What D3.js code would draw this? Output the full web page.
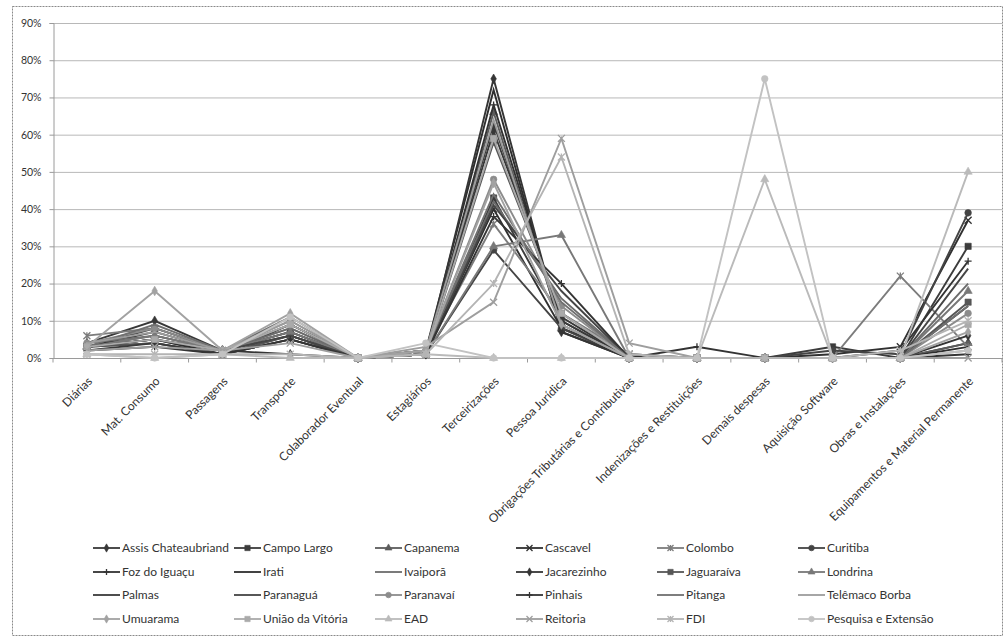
<!DOCTYPE html>
<html>
<head>
<meta charset="utf-8">
<script src="https://cdn.jsdelivr.net/npm/d3@7"></script>
<style>
  html, body { margin: 0; padding: 0; background: #fff; }
  svg { display: block; font-family: Lato, "Open Sans", sans-serif; }
</style>
</head>
<body>
<svg id="chart" width="1006" height="640"></svg>
<script>
// Expense categories (x axis)
const categories = [
  "Diárias", "Mat. Consumo", "Passagens", "Transporte", "Colaborador Eventual",
  "Estagiários", "Terceirizações", "Pessoa Jurídica",
  "Obrigações  Tributárias e Contributivas", "Indenizações e Restituições",
  "Demais despesas", "Aquisição Software", "Obras e Instalações",
  "Equipamentos e Material Permanente"
];

// Y axis ticks (share of budget)
const yTicks = [0, 0.1, 0.2, 0.3, 0.4, 0.5, 0.6, 0.7, 0.8, 0.9];

// Share (%) of each campus budget per category, in category order
const assisChateaubriand = [4, 10, 2, 7, 0, 1, 61, 11, 0, 0, 0, 0, 0, 4];
const campoLargo         = [3, 5, 1, 6, 0, 1, 43, 10, 0, 0, 0, 3, 0, 30];
const capanema           = [3, 6, 2, 9, 0, 2, 66, 8, 0, 0, 0, 0, 0, 4];
const cascavel           = [3, 4, 1, 5, 0, 1, 40, 8, 1, 0, 0, 1, 3, 37];
const colombo            = [6, 8, 2, 8, 0, 2, 36, 12, 1, 0, 0, 0, 22, 3];
const curitiba           = [3, 8, 2, 7, 0, 1, 29, 8, 0, 0, 0, 2, 1, 39];
const fozDoIguacu        = [3, 7, 2, 6, 0, 1, 68, 9, 0, 3, 0, 0, 0, 1];
const irati              = [3, 5, 1, 9, 0, 2, 72, 7, 0, 0, 0, 0, 0, 3];
const ivaipora           = [4, 6, 2, 8, 0, 2, 42, 16, 0, 0, 0, 0, 0, 20];
const jacarezinho        = [3, 5, 2, 1, 0, 1, 75, 7, 0, 0, 0, 0, 0, 6];
const jaguaraiva         = [3, 4, 1, 6, 0, 1, 58, 12, 0, 0, 0, 0, 0, 15];
const londrina           = [3, 6, 2, 7, 0, 1, 30, 33, 0, 0, 0, 0, 0, 18];
const palmas             = [2, 4, 1, 5, 0, 1, 63, 10, 0, 0, 0, 0, 0, 14];
const paranagua          = [3, 5, 2, 6, 0, 1, 41, 18, 0, 0, 0, 0, 0, 24];
const paranavai          = [4, 8, 2, 10, 0, 2, 48, 14, 0, 0, 0, 0, 0, 12];
const pinhais            = [2, 3, 1, 5, 0, 1, 38, 20, 0, 0, 0, 0, 2, 26];
const pitanga            = [3, 9, 2, 11, 0, 2, 44, 15, 0, 0, 0, 0, 0, 14];
const telemacoBorba      = [4, 7, 2, 10, 0, 2, 64, 9, 0, 0, 0, 0, 0, 2];
const umuarama           = [3, 18, 2, 12, 0, 2, 47, 9, 0, 0, 0, 0, 0, 7];
const uniaoDaVitoria     = [3, 5, 2, 9, 0, 1, 59, 12, 0, 0, 0, 0, 0, 9];
const ead                = [1, 0, 1, 0, 0, 1, 0, 0, 0, 0, 48, 0, 0, 50];
const reitoria           = [2, 3, 2, 4, 0, 3, 15, 59, 4, 0, 0, 0, 0, 0];
const fdi                = [1, 1, 1, 1, 0, 1, 20, 54, 1, 0, 0, 0, 2, 10];
const pesquisaExtensao   = [1, 0, 1, 11, 0, 4, 0, 0, 0, 0, 75, 0, 0, 2];

const seriesNames = [
  "Assis Chateaubriand", "Campo Largo", "Capanema", "Cascavel", "Colombo", "Curitiba",
  "Foz do Iguaçu", "Irati", "Ivaiporã", "Jacarezinho", "Jaguaraíva", "Londrina",
  "Palmas", "Paranaguá", "Paranavaí", "Pinhais", "Pitanga", "Telêmaco Borba",
  "Umuarama", "União da Vitória", "EAD", "Reitoria", "FDI", "Pesquisa e Extensão"
];
const seriesValues = [
  assisChateaubriand, campoLargo, capanema, cascavel, colombo, curitiba,
  fozDoIguacu, irati, ivaipora, jacarezinho, jaguaraiva, londrina,
  palmas, paranagua, paranavai, pinhais, pitanga, telemacoBorba,
  umuarama, uniaoDaVitoria, ead, reitoria, fdi, pesquisaExtensao
];

// Line colour and marker per series (grayscale print palette)
const seriesStyle = [
  { color: "#383838", marker: "diamond" },
  { color: "#3c3c3c", marker: "square" },
  { color: "#5c5c5c", marker: "triangle" },
  { color: "#303030", marker: "x" },
  { color: "#7c7c7c", marker: "star" },
  { color: "#444444", marker: "circle" },
  { color: "#333333", marker: "plus" },
  { color: "#2e2e2e", marker: "none" },
  { color: "#6c6c6c", marker: "none" },
  { color: "#353535", marker: "diamond" },
  { color: "#565656", marker: "square" },
  { color: "#787878", marker: "triangle" },
  { color: "#3a3a3a", marker: "none" },
  { color: "#454545", marker: "none" },
  { color: "#8c8c8c", marker: "circle" },
  { color: "#343434", marker: "plus" },
  { color: "#707070", marker: "none" },
  { color: "#9c9c9c", marker: "none" },
  { color: "#a2a2a2", marker: "diamond" },
  { color: "#aaaaaa", marker: "square" },
  { color: "#bababa", marker: "triangle" },
  { color: "#9e9e9e", marker: "x" },
  { color: "#b4b4b4", marker: "star" },
  { color: "#c2c2c2", marker: "circle" }
];

const svg = d3.select("#chart");

// Outer chart frame
svg.append("rect")
  .attr("x", 12.5).attr("y", 6.5)
  .attr("width", 990).attr("height", 629)
  .attr("fill", "#fff")
  .attr("stroke", "#8a8a8a")
  .attr("stroke-width", 1)
  .attr("stroke-dasharray", "2,1");

const plot = { left: 53, right: 1002, top: 23, bottom: 358 };

const x = d3.scaleBand().domain(categories).range([plot.left, plot.right]);
const cx = c => x(c) + x.bandwidth() / 2;
const y = d3.scaleLinear().domain([0, 0.9]).range([plot.bottom, plot.top]);

// Horizontal gridlines
svg.append("g")
  .selectAll("line")
  .data(yTicks.filter(t => t > 0))
  .join("line")
  .attr("x1", plot.left).attr("x2", plot.right)
  .attr("y1", d => y(d) + 0.5).attr("y2", d => y(d) + 0.5)
  .attr("stroke", "#b8b8b8")
  .attr("stroke-width", 1);

// Y axis
const yAxis = svg.append("g")
  .attr("transform", `translate(${plot.left + 0.5},0)`)
  .call(d3.axisLeft(y).tickValues(yTicks).tickFormat(d3.format(".0%")).tickSize(4).tickPadding(8));
yAxis.select(".domain").attr("stroke", "#9a9a9a");
yAxis.selectAll(".tick line").attr("stroke", "#9a9a9a");
yAxis.selectAll("text")
  .attr("fill", "#333")
  .style("font-size", "10.5px")
  .style("font-family", "Lato, sans-serif");

// X axis baseline with ticks at category boundaries
const xAxis = svg.append("g")
  .attr("transform", `translate(0,${plot.bottom + 0.5})`);
xAxis.append("line")
  .attr("x1", plot.left).attr("x2", plot.right)
  .attr("stroke", "#9a9a9a");
xAxis.selectAll("line.tick")
  .data(d3.range(categories.length + 1))
  .join("line")
  .attr("class", "tick")
  .attr("x1", i => plot.left + i * x.bandwidth())
  .attr("x2", i => plot.left + i * x.bandwidth())
  .attr("y1", 0).attr("y2", 4)
  .attr("stroke", "#9a9a9a");

// Rotated category labels
svg.append("g")
  .selectAll("text")
  .data(categories)
  .join("text")
  .attr("transform", d => `translate(${cx(d) + 6},${plot.bottom + 24}) rotate(-45)`)
  .attr("text-anchor", "end")
  .attr("fill", "#333")
  .style("font-size", "12px")
  .text(d => d);

// Marker path builders
function markerPath(type, s) {
  const h = s / 2;
  switch (type) {
    case "diamond": return d3.symbol(d3.symbolDiamond, s * s * 0.55)();
    case "square": return d3.symbol(d3.symbolSquare, s * s * 0.8)();
    case "triangle": return d3.symbol(d3.symbolTriangle, s * s * 0.6)();
    case "circle": return d3.symbol(d3.symbolCircle, s * s * 0.7)();
    case "x": return `M${-h},${-h}L${h},${h}M${-h},${h}L${h},${-h}`;
    case "plus": return `M${-h},0L${h},0M0,${-h}L0,${h}`;
    case "star": return `M${-h},${-h}L${h},${h}M${-h},${h}L${h},${-h}M0,${-h}L0,${h}`;
    default: return null;
  }
}
const strokedMarker = t => t === "x" || t === "plus" || t === "star";

function drawMarker(g, type, color, px, py, size) {
  const p = markerPath(type, size);
  if (!p) return;
  const m = g.append("path")
    .attr("d", p)
    .attr("transform", `translate(${px},${py})`);
  if (strokedMarker(type)) {
    m.attr("fill", "none").attr("stroke", color).attr("stroke-width", 1.3);
  } else {
    m.attr("fill", color).attr("stroke", color).attr("stroke-width", 0.6);
  }
}

const line = d3.line()
  .x((d, i) => cx(categories[i]))
  .y(d => y(d / 100));

// Series lines and markers
const seriesG = svg.append("g");
seriesValues.forEach((vals, si) => {
  const st = seriesStyle[si];
  const g = seriesG.append("g");
  g.append("path")
    .datum(vals)
    .attr("d", line)
    .attr("fill", "none")
    .attr("stroke", st.color)
    .attr("stroke-width", 1.9)
    .attr("stroke-linejoin", "miter");
  vals.forEach((v, i) => {
    drawMarker(g, st.marker, st.color, cx(categories[i]), y(v / 100), 7);
  });
});

// Legend: 6 columns x 4 rows
const legendCols = [122, 263, 404, 545, 686, 827];
const legendRows = [548, 572, 595, 619];
const legend = svg.append("g");
seriesNames.forEach((name, i) => {
  const col = i % 6, row = Math.floor(i / 6);
  const st = seriesStyle[i];
  const lx = legendCols[col], ly = legendRows[row];
  const g = legend.append("g");
  g.append("line")
    .attr("x1", lx - 29).attr("x2", lx - 2)
    .attr("y1", ly).attr("y2", ly)
    .attr("stroke", st.color)
    .attr("stroke-width", 1.8);
  drawMarker(g, st.marker, st.color, lx - 15.5, ly, 6);
  g.append("text")
    .attr("x", lx).attr("y", ly + 4)
    .attr("fill", "#333")
    .style("font-size", "12px")
    .text(name);
});
</script>
</body>
</html>
